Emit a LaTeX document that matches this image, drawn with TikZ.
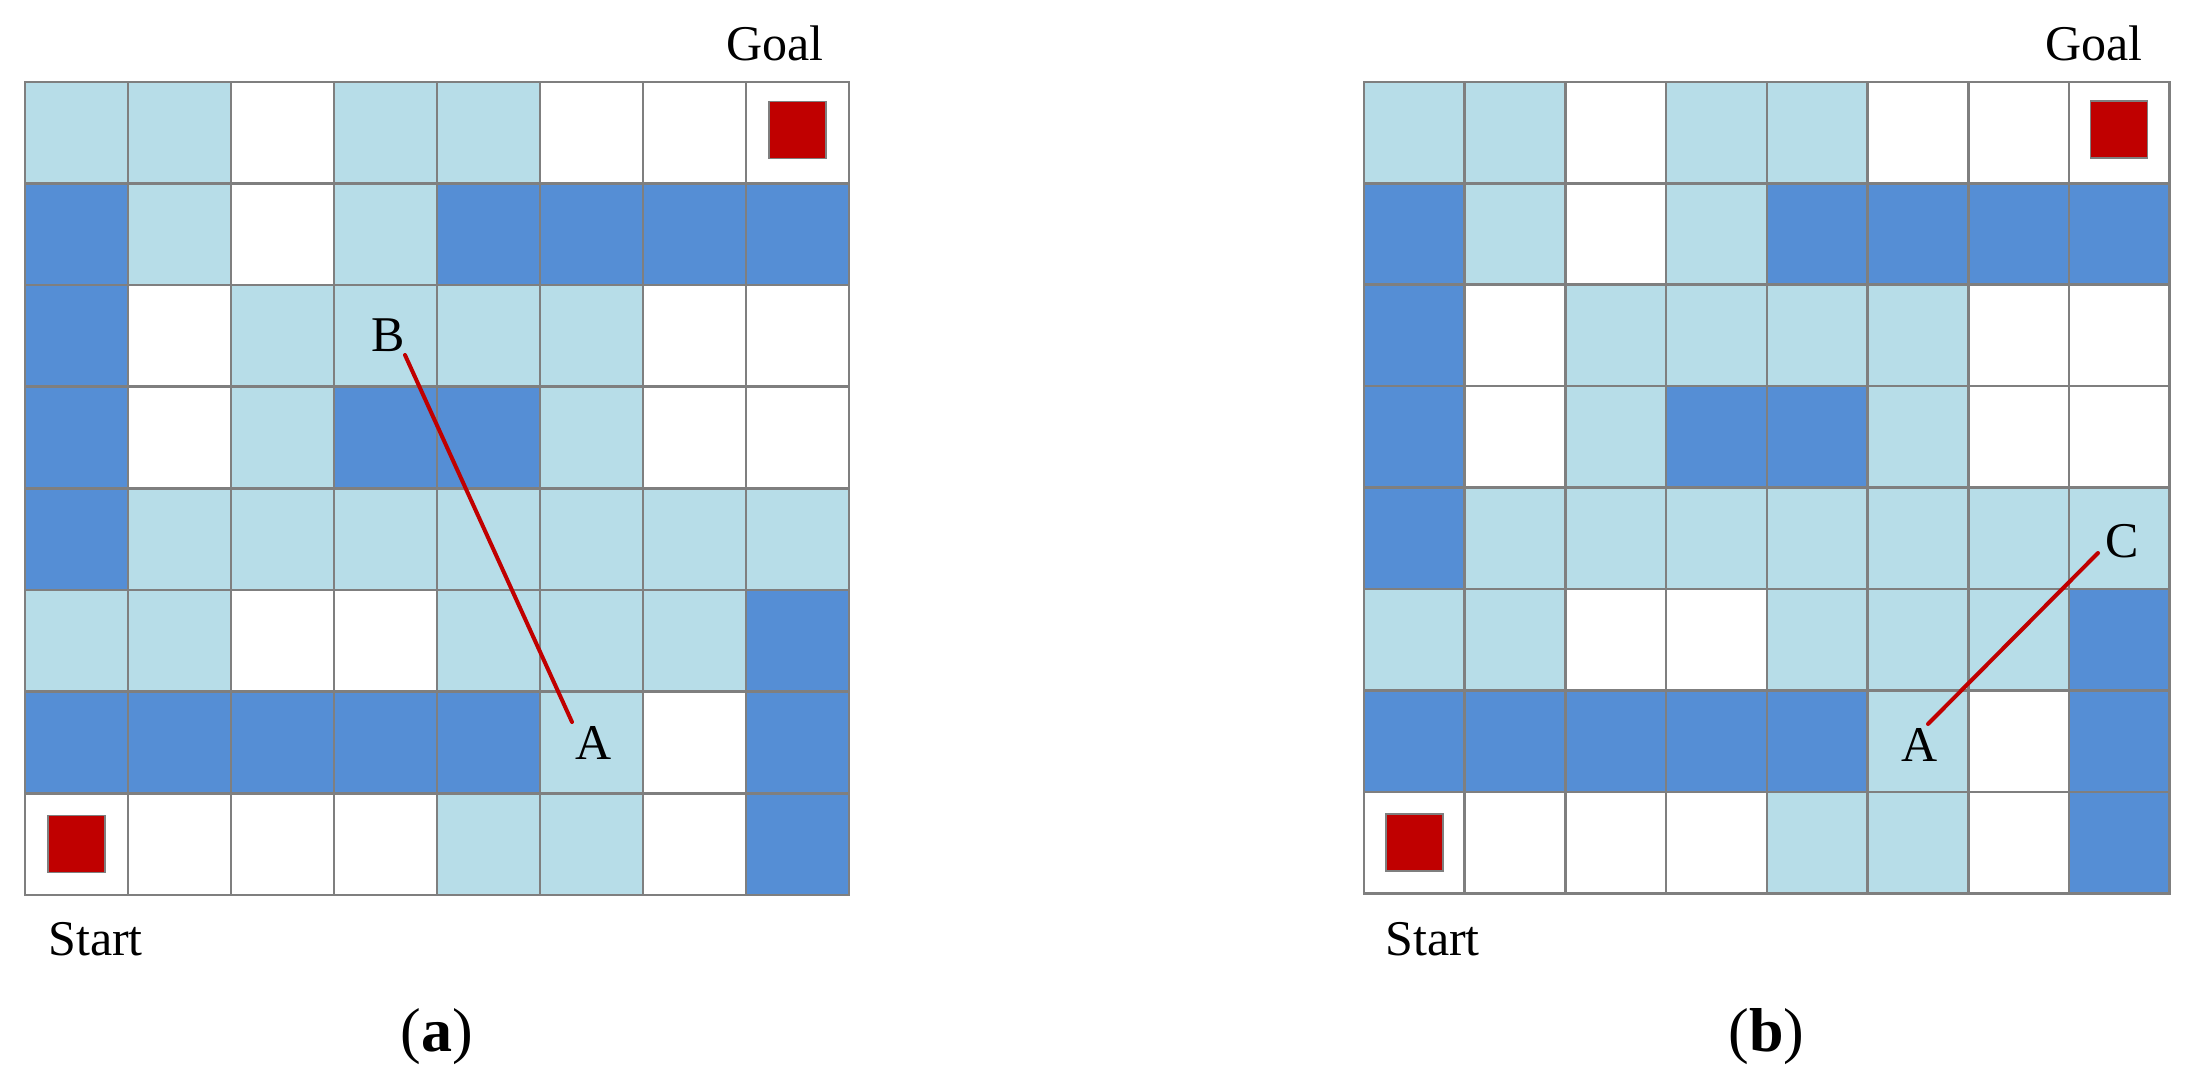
\documentclass[tikz,border=0pt]{standalone}
\usepackage{fontspec}
\setmainfont{Liberation Serif}
\definecolor{cL}{HTML}{B7DDE8}
\definecolor{cD}{HTML}{558ED5}
\definecolor{cW}{HTML}{FFFFFF}
\definecolor{gridgray}{HTML}{7F7F7F}
\definecolor{pathred}{HTML}{C00000}
\newcommand\mymaze[4]{% #1 prefix, #2 x0, #3 cell w, #4 cell h
  \foreach \r/\rowlist in {0/{L,L,W,L,L,W,W,W},1/{D,L,W,L,D,D,D,D},2/{D,W,L,L,L,L,W,W},3/{D,W,L,D,D,L,W,W},4/{D,L,L,L,L,L,L,L},5/{L,L,W,W,L,L,L,D},6/{D,D,D,D,D,L,W,D},7/{W,W,W,W,L,L,W,D}}{
    \foreach \c [count=\i from 0] in \rowlist {
      \fill[c\c] ({#2+\i*#3},{82+\r*#4}) rectangle ++(#3,#4);
    }
  }
  \foreach \i in {0,...,8} \draw[gridline] ({#2+\i*#3},82) -- ++(0,{8*#4});
  \foreach \i in {0,...,8} \draw[gridline] (#2,{82+\i*#4}) -- ++({8*#3},0);
  \node[redsq] (#1goal) at ({#2+7.5*#3},{82+0.47*#4}) {};
  \node[redsq] (#1start) at ({#2+0.5*#3},{82+7.5*#4}) {};
}
\begin{document}
\begin{tikzpicture}[x=0.5pt,y=-0.5pt,
  gridline/.style={draw=gridgray,line width=1.3pt,line cap=rect},
  redsq/.style={draw=gridgray,line width=0.7pt,fill=pathred,minimum size=28.5pt,inner sep=0pt},
  lbl/.style={font=\fontsize{25}{30}\selectfont,inner sep=0pt},
  captxt/.style={font=\fontsize{31}{36}\selectfont,inner sep=0pt},
  redline/.style={draw=pathred,line width=2pt,line cap=round}]
\useasboundingbox[fill=white] (0,0) rectangle (2192,1091);
% panel (a)
\mymaze{a}{25}{103}{101.6}
\node[lbl,anchor=base east] (agoaltxt) at (824,61) {Goal};
\node[lbl,anchor=base west] (astarttxt) at (48,955) {Start};
\node[lbl,anchor=base west] (aB) at (371,352) {B};
\node[lbl,anchor=base west] (aA) at (575,759) {A};
\coordinate (aBend) at (405,355);
\coordinate (aAend) at (572,722);
\draw[redline] (aBend) -- (aAend);
\node[captxt,anchor=base] (capa) at (437,1051) {(\textbf{a})};
% panel (b)
\mymaze{b}{1364}{100.7}{101.4}
\node[lbl,anchor=base east] (bgoaltxt) at (2143,61) {Goal};
\node[lbl,anchor=base west] (bstarttxt) at (1385,955) {Start};
\node[lbl,anchor=base west] (bC) at (2105,557) {C};
\node[lbl,anchor=base west] (bA) at (1901,761) {A};
\coordinate (bCend) at (2098,553);
\coordinate (bAend) at (1928,724);
\draw[redline] (bAend) -- (bCend);
\node[captxt,anchor=base] (capb) at (1766.5,1051) {(\textbf{b})};
\end{tikzpicture}
\end{document}
